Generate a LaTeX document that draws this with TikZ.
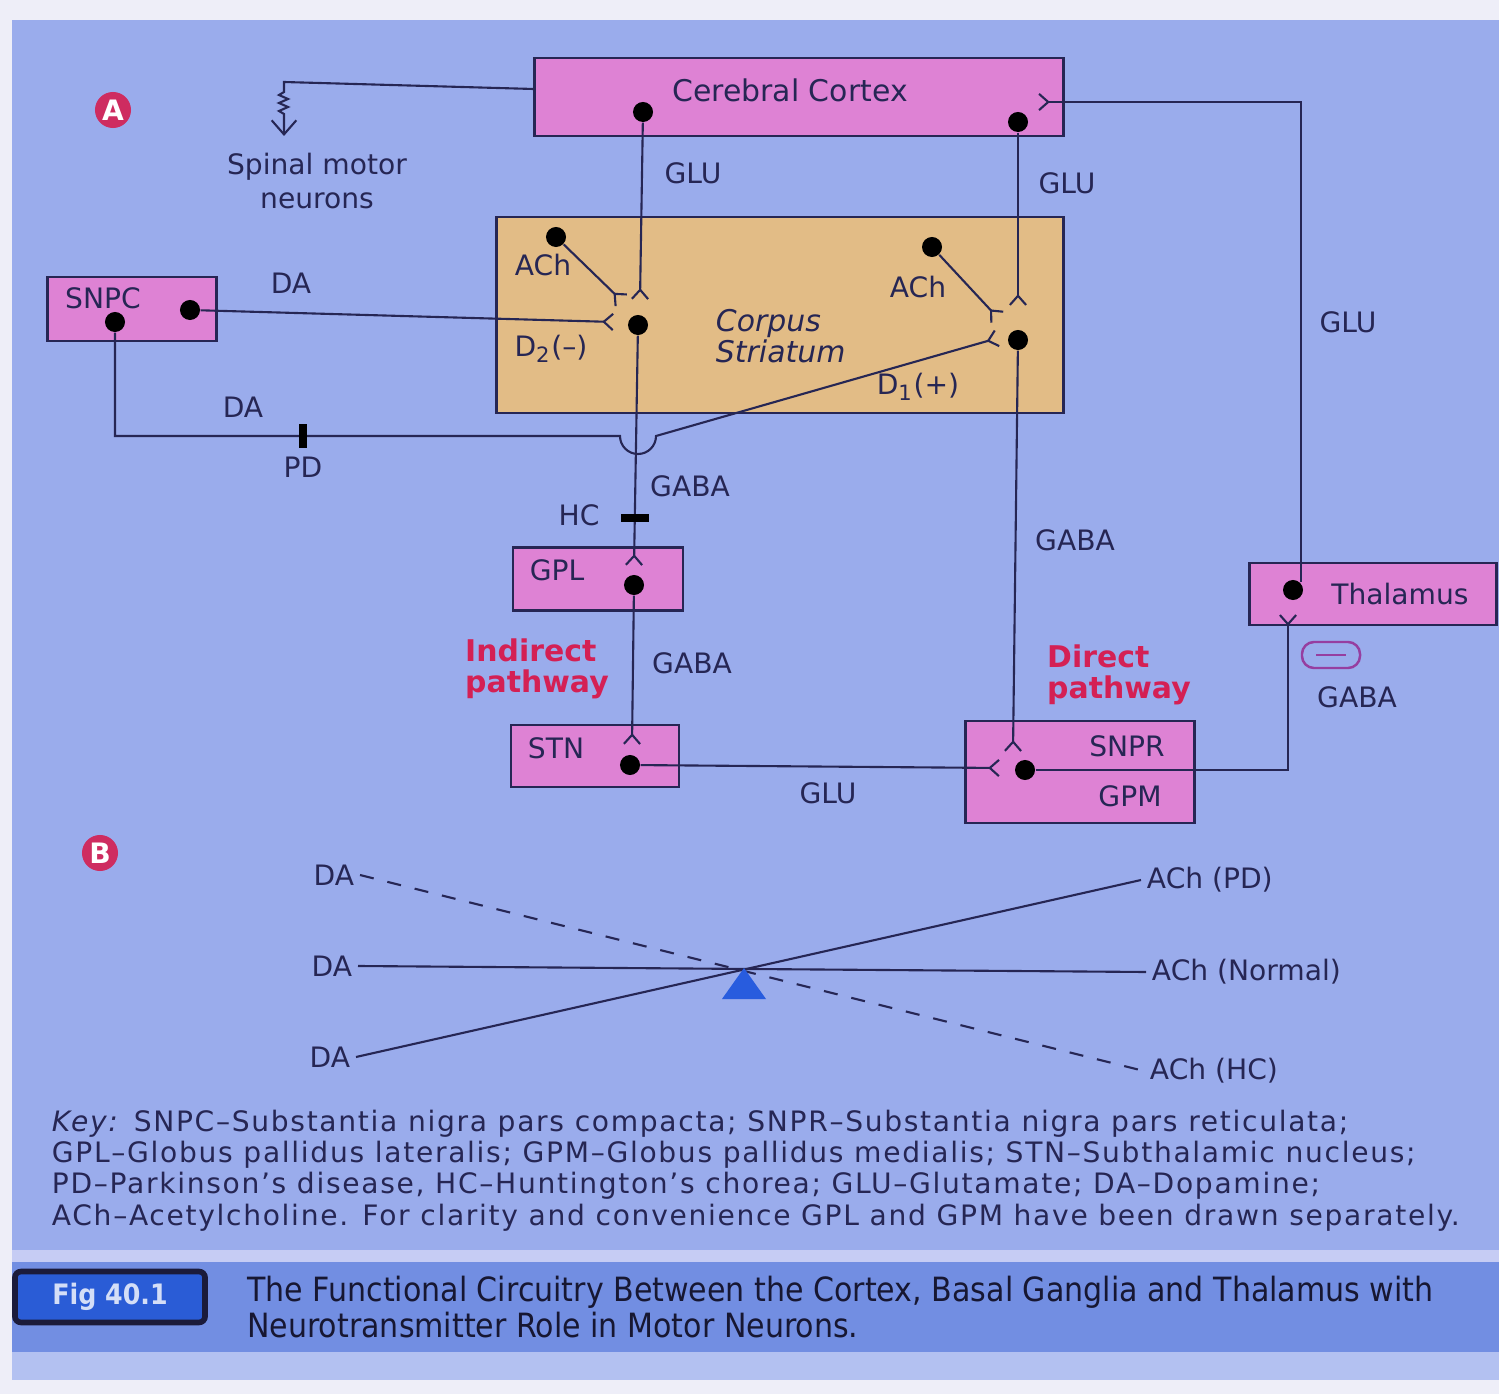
\documentclass[tikz,border=0pt]{standalone}
\usepackage{fontspec}
\setmainfont{DejaVu Sans}
\newfontfamily\capfont[FakeStretch=0.9]{DejaVu Sans}
\newfontfamily\keyfont[LetterSpace=6,Ligatures=TeX]{DejaVu Sans}
\usetikzlibrary{arrows.meta}
\definecolor{bgblue}{RGB}{154,172,236}
\definecolor{pagewhite}{RGB}{238,238,248}
\definecolor{pinkbox}{RGB}{222,130,212}
\definecolor{tanbox}{RGB}{226,188,134}
\definecolor{ink}{RGB}{38,38,84}
\definecolor{redtext}{RGB}{212,32,84}
\definecolor{badgered}{RGB}{206,44,96}
\definecolor{bandblue}{RGB}{114,142,226}
\definecolor{bandlight}{RGB}{198,204,244}
\definecolor{tagblue}{RGB}{42,92,214}
\definecolor{fulcrumblue}{RGB}{40,92,222}
\definecolor{minusc}{RGB}{150,62,160}

\begin{document}
\begin{tikzpicture}[x=0.01cm,y=-0.01cm,
    box/.style={draw=ink,line width=0.8pt,fill=pinkbox,inner sep=0pt},
    dot/.style={circle,fill=black,inner sep=0pt,minimum size=0.2cm},
    lbl/.style={text=ink,font=\fontsize{8}{9.5}\selectfont,inner sep=1.5pt},
    wire/.style={draw=ink,line width=0.6pt},
    syn/.style={wire,-{Straight Barb[reversed,length=2.6pt,width=4.6pt]}},
    pathway/.style={text=redtext,font=\fontsize{8.5}{8.8}\selectfont\bfseries,align=left,anchor=west,inner sep=1pt},
    bar/.style={fill=black,inner sep=0pt},
    badge/.style={circle,fill=badgered,text=white,font=\fontsize{8}{9}\selectfont\bfseries,minimum size=0.36cm,inner sep=0pt}
]

% page and caption band
\fill[pagewhite] (0,0) rectangle (1499,1394);
\fill[bgblue] (12,20) rectangle (1499,1380);
\fill[bandlight] (12,1250) rectangle (1499,1262);
\fill[bandblue] (12,1262) rectangle (1499,1352);
\fill[bgblue!75!white] (12,1352) rectangle (1499,1380);

\node[badge] (secA) at (113,110) {A};
\node[badge] (secB) at (100,853) {B};

% nuclei
\node[box,minimum width=5.28cm,minimum height=0.78cm] (cortex) at (799,97) {};
\node[box,fill=tanbox,minimum width=5.67cm,minimum height=1.96cm] (striatum) at (780,315) {};
\node[box,minimum width=1.69cm,minimum height=0.64cm] (snpc) at (132,309) {};
\node[box,minimum width=1.70cm,minimum height=0.63cm] (gplbox) at (598,579) {};
\node[box,minimum width=1.68cm,minimum height=0.62cm] (stnbox) at (595,756) {};
\node[box,minimum width=2.29cm,minimum height=1.02cm] (gpmbox) at (1080,772) {};
\node[box,minimum width=2.47cm,minimum height=0.62cm] (thalbox) at (1373,594) {};

\node[lbl,font=\fontsize{8.5}{10}\selectfont] (ctxname) at (790,90) {Cerebral Cortex};
\node[lbl,font=\fontsize{8.5}{9}\selectfont\itshape,align=left,anchor=west] (strname) at (710,336) {Corpus\\Striatum};
\node[lbl] (snpcname) at (103,298) {SNPC};
\node[lbl] (gplname) at (557,570) {GPL};
\node[lbl] (stnname) at (556,748) {STN};
\node[lbl] (snprname) at (1127,746) {SNPR};
\node[lbl] (gpmname) at (1130,796) {GPM};
\node[lbl] (thalname) at (1400,594) {Thalamus};

% neurons
\node[dot] (ctxL) at (643,112) {};
\node[dot] (ctxR) at (1018,122) {};
\node[dot] (snpcR) at (190,310) {};
\node[dot] (snpcB) at (115,322) {};
\node[dot] (achL) at (556,237) {};
\node[dot] (achR) at (932,247) {};
\node[dot] (d2) at (638,325) {};
\node[dot] (d1) at (1018,340) {};
\node[dot] (gpl) at (634,585) {};
\node[dot] (stn) at (630,765) {};
\node[dot] (gpm) at (1025,770) {};
\node[dot] (thal) at (1293,590) {};

\coordinate (d2glu) at (640,300);
\coordinate (d2ach) at (622,301);
\coordinate (d2da) at (614,322);
\coordinate (d1glu) at (1018,306);
\coordinate (d1ach) at (998,318);
\coordinate (d1da) at (998,338);
\coordinate (gplin) at (634,566);
\coordinate (stnin) at (632,745);
\coordinate (gpmgaba) at (1013,752);
\coordinate (gpmglu) at (1000,768);
\coordinate (thalin) at (1288,614);
\coordinate (ctxin) at (1038,102);
\coordinate (hopL) at (620,436);
\coordinate (spinal) at (284,82);

% connections
\draw[wire,-{Straight Barb[length=4pt,width=7pt]}] ([yshift=0.08cm]cortex.west) -- (spinal)
    -- ++(0,10) -- ++(-5,3) -- ++(9,4) -- ++(-9,4) -- ++(9,4) -- ++(-9,4) -- ++(5,3) -- ++(0,22);
\draw[syn] (ctxL) -- (d2glu);
\draw[syn] (achL) -- (d2ach);
\draw[syn] (snpcR) -- (d2da);
\draw[syn] (ctxR) -- (d1glu);
\draw[syn] (achR) -- (d1ach);
\draw[syn] (snpcB) |- (hopL) arc[start angle=180,end angle=360,radius=0.18cm] -- (d1da);
\draw[syn] (d2) -- (gplin);
\draw[syn] (gpl) -- (stnin);
\draw[syn] (stn) -- (gpmglu);
\draw[syn] (d1) -- (gpmgaba);
\draw[syn] (gpm) -| (thalin);
\draw[syn] (thal.north east) |- (ctxin);

\node[bar,minimum width=0.07cm,minimum height=0.24cm] (pd) at (303,436) {};
\node[bar,minimum width=0.28cm,minimum height=0.07cm] (hc) at (635,518) {};

\node[draw=minusc,line width=0.7pt,rounded corners=0.12cm,minimum width=0.58cm,minimum height=0.26cm,inner sep=0pt] (inhib) at (1331,655) {};
\draw[minusc,line width=0.7pt] ([xshift=-0.15cm]inhib.center) -- ([xshift=0.15cm]inhib.center);

% transmitter labels
\node[lbl,align=center] (spinname) at (317,181) {Spinal motor\\neurons};
\node[lbl] (glu1) at (693,173) {GLU};
\node[lbl] (glu2) at (1067,183) {GLU};
\node[lbl] (glu3) at (1348,322) {GLU};
\node[lbl] (glu4) at (828,793) {GLU};
\node[lbl] (da1) at (291,283) {DA};
\node[lbl] (da2) at (243,407) {DA};
\node[lbl] (pdname) at (303,467) {PD};
\node[lbl] (hcname) at (579,515) {HC};
\node[lbl] (achLname) at (543,265) {ACh};
\node[lbl] (achRname) at (918,287) {ACh};
\node[lbl] (d2name) at (551,349) {D\textsubscript{2}(–)};
\node[lbl] (d1name) at (918,387) {D\textsubscript{1}(+)};
\node[lbl] (gaba1) at (690,486) {GABA};
\node[lbl] (gaba2) at (692,663) {GABA};
\node[lbl] (gaba3) at (1075,540) {GABA};
\node[lbl] (gaba4) at (1357,697) {GABA};
\node[pathway] (indirect) at (461,669) {Indirect\\pathway};
\node[pathway] (direct) at (1043,675) {Direct\\pathway};

% balance
\node[lbl,anchor=east] (daHC) at (360,875) {DA};
\node[lbl,anchor=east] (daN) at (358,966) {DA};
\node[lbl,anchor=east] (daPD) at (356,1057) {DA};
\node[lbl,anchor=west] (achPD) at (1141,880) {ACh (PD)};
\node[lbl,anchor=west] (achN) at (1146,972) {ACh (Normal)};
\node[lbl,anchor=west] (achHC) at (1144,1071) {ACh (HC)};
\draw[wire,dashed,dash pattern=on 4pt off 4pt] (daHC.east) -- (achHC.west);
\draw[wire] (daN.east) -- (achN.west);
\draw[wire] (daPD.east) -- (achPD.west);
\fill[fulcrumblue] (744,968) -- (722,999) -- (766,999) -- cycle;

\node[lbl,anchor=north west,align=left,font=\keyfont\fontsize{8}{8.9}\selectfont] (key) at (46,1104)
    {\textit{Key:} SNPC–Substantia nigra pars compacta; SNPR–Substantia nigra pars reticulata;\\
     GPL–Globus pallidus lateralis; GPM–Globus pallidus medialis; STN–Subthalamic nucleus;\\
     PD–Parkinson’s disease, HC–Huntington’s chorea; GLU–Glutamate; DA–Dopamine;\\
     ACh–Acetylcholine. For clarity and convenience GPL and GPM have been drawn separately.};

\node[draw=ink!70!black,fill=tagblue,rounded corners=0.06cm,line width=1.6pt,minimum width=1.9cm,minimum height=0.48cm,
    text=white!80!tagblue,font=\capfont\fontsize{8}{10}\selectfont\bfseries] (figtag) at (110,1297) {Fig 40.1};
\node[anchor=west,align=left,text=ink!60!black,font=\capfont\fontsize{9.5}{8.6}\selectfont,inner sep=1pt] (caption) at (243,1307)
    {The Functional Circuitry Between the Cortex, Basal Ganglia and Thalamus with\\Neurotransmitter Role in Motor Neurons.};

\end{tikzpicture}
\end{document}
